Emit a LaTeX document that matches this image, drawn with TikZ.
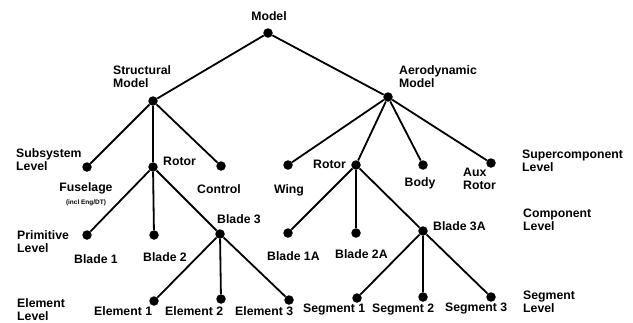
\documentclass[tikz,border=0pt]{standalone}
\usepackage{fontspec}
\setmainfont{Liberation Sans}
\begin{document}
\begin{tikzpicture}[x=1bp,y=-1bp,
  dot/.style={circle,fill=black,inner sep=0pt,minimum size=9.5bp},
  lbl/.style={inner sep=0pt,font=\fontsize{12.3}{13}\selectfont\bfseries,align=left},
  lblw/.style={lbl,anchor=west},
  lblb/.style={lbl,anchor=base west},
  lblc/.style={lbl,anchor=base},
  small/.style={inner sep=0pt,anchor=base,font=\fontsize{6.5}{7}\selectfont\bfseries},
  edge/.style={line width=1.8bp}]
\useasboundingbox (0,0) rectangle (633,322);
% dots
\node[dot] (m) at (268,33) {};
\node[dot] (s) at (153,101) {};
\node[dot] (a) at (388,97) {};
\node[dot] (fu) at (87,167) {};
\node[dot] (rs) at (153,167) {};
\node[dot] (co) at (221,166) {};
\node[dot] (wi) at (288,165) {};
\node[dot] (ra) at (356,165) {};
\node[dot] (bo) at (423,165) {};
\node[dot] (au) at (491,163) {};
\node[dot] (b1) at (87,235) {};
\node[dot] (b2) at (154,235) {};
\node[dot] (b3) at (220,234) {};
\node[dot] (b1a) at (288,233) {};
\node[dot] (b2a) at (356,233) {};
\node[dot] (b3a) at (423,231) {};
\node[dot] (e1) at (154,301) {};
\node[dot] (e2) at (221,299) {};
\node[dot] (e3) at (289,300) {};
\node[dot] (g1) at (357,298) {};
\node[dot] (g2) at (423,297) {};
\node[dot] (g3) at (491,297) {};
% edges
\draw[edge] (m) -- (s);
\draw[edge] (m) -- (a);
\draw[edge] (s) -- (fu);
\draw[edge] (s) -- (rs);
\draw[edge] (s) -- (co);
\draw[edge] (a) -- (wi);
\draw[edge] (a) -- (ra);
\draw[edge] (a) -- (bo);
\draw[edge] (a) -- (au);
\draw[edge] (rs) -- (b1);
\draw[edge] (rs) -- (b2);
\draw[edge] (rs) -- (b3);
\draw[edge] (ra) -- (b1a);
\draw[edge] (ra) -- (b2a);
\draw[edge] (ra) -- (b3a);
\draw[edge] (b3) -- (e1);
\draw[edge] (b3) -- (e2);
\draw[edge] (b3) -- (e3);
\draw[edge] (b3a) -- (g1);
\draw[edge] (b3a) -- (g2);
\draw[edge] (b3a) -- (g3);
% labels
\node[lblc] (lm) at (269,20.5) {Model};
\node[lblw] (ls) at (113,77) {Structural\\Model};
\node[lblw] (la) at (399,77) {Aerodynamic\\Model};
\node[lblw] (lsub) at (16,160) {Subsystem\\Level};
\node[lblb] (lrs) at (163,165) {Rotor};
\node[lblc] (lfu) at (86,191.5) {Fuselage};
\node[small] (lincl) at (86,204) {(incl Eng/DT)};
\node[lblc] (lco) at (219,193.5) {Control};
\node[lblc] (lwi) at (289,193.5) {Wing};
\node[lblb] (lra) at (313,168.5) {Rotor};
\node[lblc] (lbo) at (420,186.5) {Body};
\node[lblw] (lau) at (463,179) {Aux\\Rotor};
\node[lblw] (lsup) at (522,161) {Supercomponent\\Level};
\node[lblb] (lb3) at (217,223.5) {Blade 3};
\node[lblw] (lpri) at (17,242) {Primitive\\Level};
\node[lblc] (lb1) at (96,263.5) {Blade 1};
\node[lblc] (lb2) at (165,261.5) {Blade 2};
\node[lblb] (lb1a) at (267,260.5) {Blade 1A};
\node[lblb] (lb2a) at (335,258.5) {Blade 2A};
\node[lblb] (lb3a) at (433,230.5) {Blade 3A};
\node[lblw] (lcomp) at (523,220) {Component\\Level};
\node[lblw] (lel) at (17,310) {Element\\Level};
\node[lblb] (le1) at (94,315.5) {Element 1};
\node[lblb] (le2) at (165,315.5) {Element 2};
\node[lblb] (le3) at (235,315.5) {Element 3};
\node[lblb] (lg1) at (303,312) {Segment 1};
\node[lblb] (lg2) at (372,312) {Segment 2};
\node[lblb] (lg3) at (445,311.5) {Segment 3};
\node[lblw] (lseg) at (523,302) {Segment\\Level};
\end{tikzpicture}
\end{document}
